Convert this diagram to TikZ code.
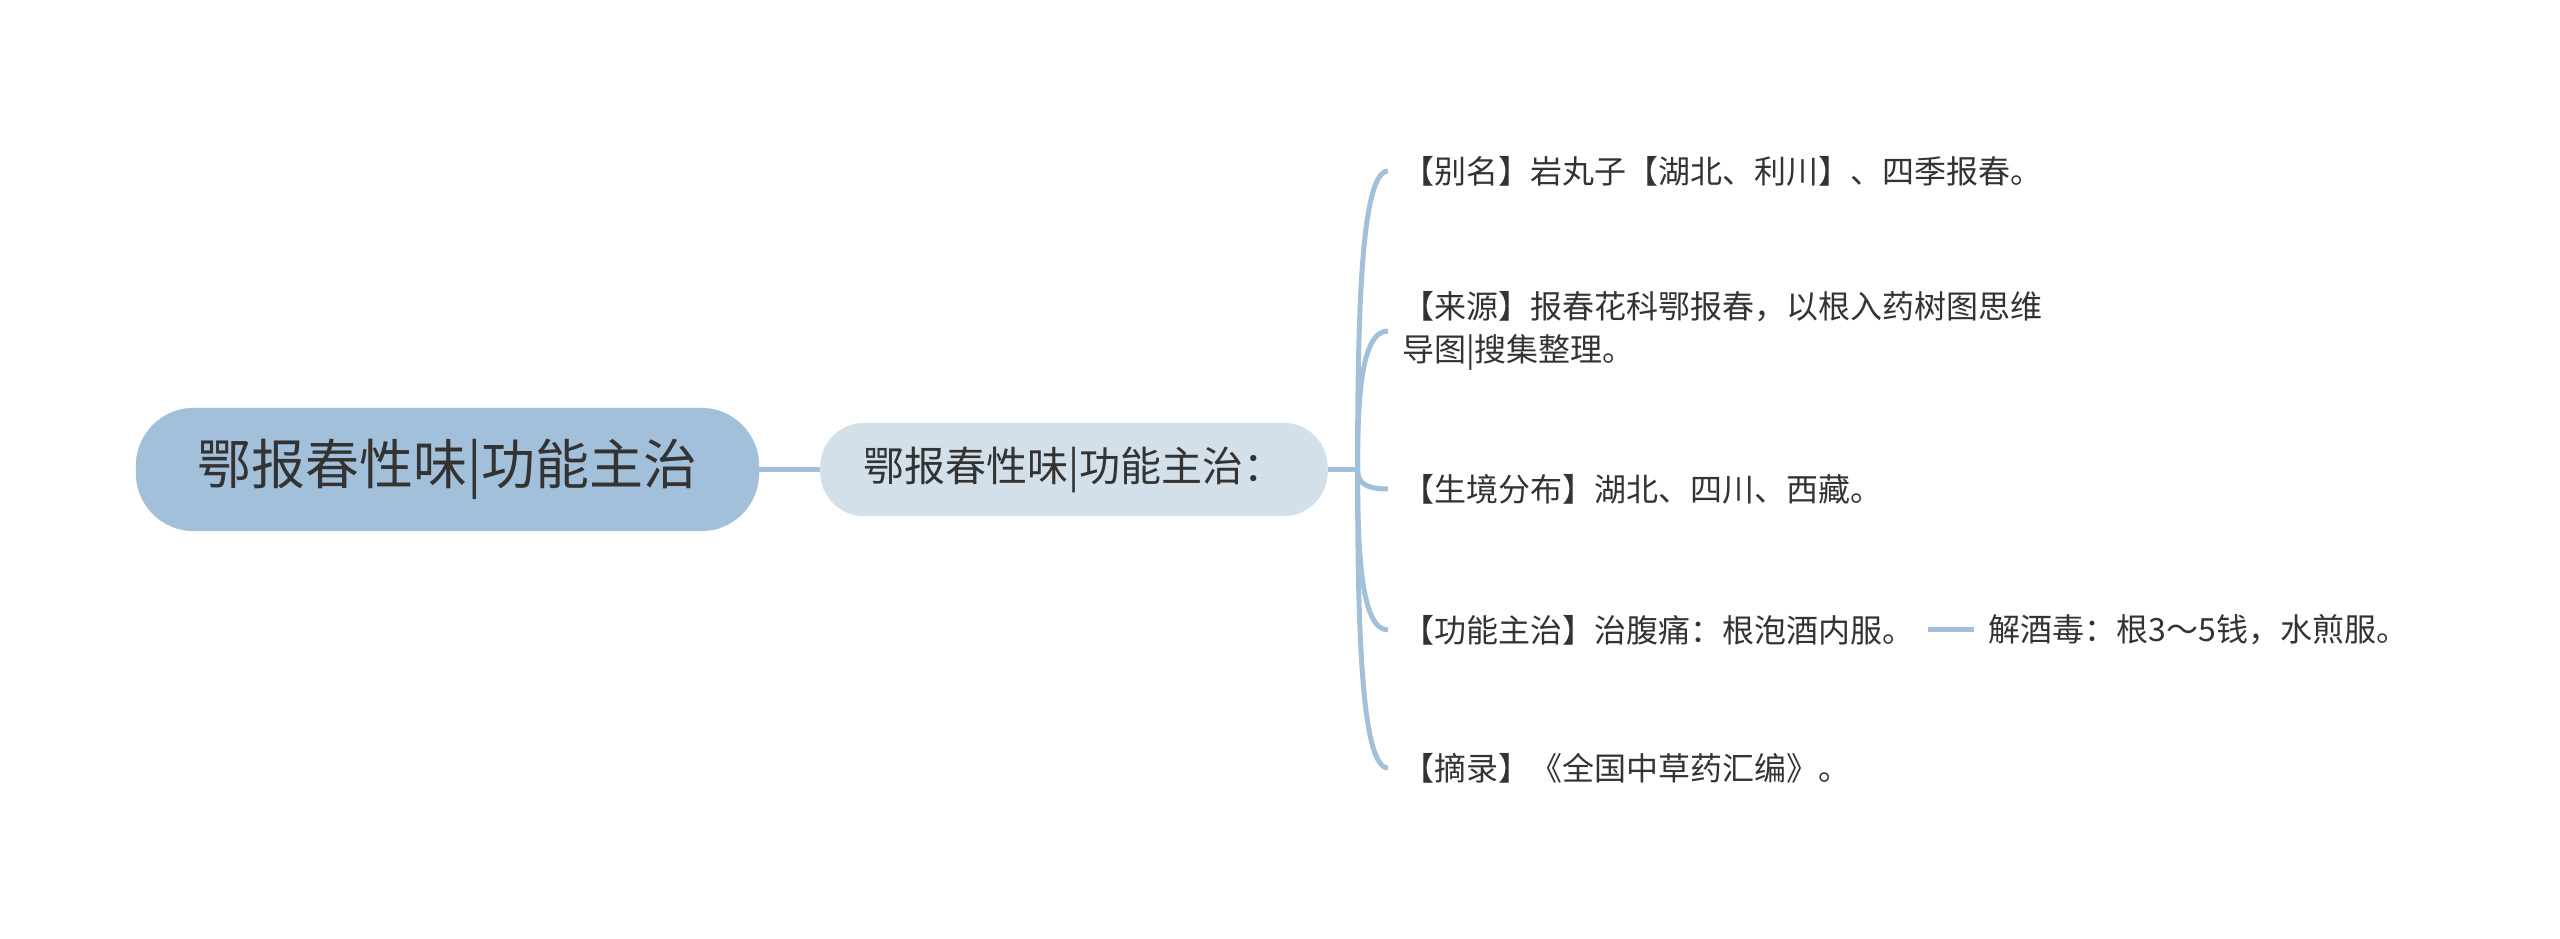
\documentclass[tikz,border=0pt]{standalone}
\usepackage{fontspec}
\setmainfont{Noto Sans CJK SC}
\usetikzlibrary{positioning,calc}
\definecolor{rootblue}{HTML}{A3C0DB}
\definecolor{subblue}{HTML}{D3DFE9}
\definecolor{lineblue}{HTML}{A3C0DB}
\definecolor{txt}{HTML}{333333}
\tikzset{
  root/.style={fill=rootblue, draw=rootblue, rounded corners=58pt, minimum width=623pt, minimum height=123pt, text=txt, font=\fontsize{54}{60}\selectfont},
  sub/.style={fill=subblue, draw=subblue, rounded corners=44pt, minimum width=507pt, minimum height=93pt, text=txt, font=\fontsize{41}{48}\selectfont},
  leaf/.style={anchor=west, inner xsep=14pt, inner ysep=2pt, align=left, text=txt, font=\fontsize{32}{43}\selectfont},
  ln/.style={draw=lineblue, line width=5pt},
}
\begin{document}
\begin{tikzpicture}[x=1pt, y=1pt]
\useasboundingbox (0,0) rectangle (2560,939);
\node[root] (root) at (447.5,469.5) {鄂报春性味|功能主治};
\node[sub, right=61pt of root] (sub) {鄂报春性味|功能主治：};
\coordinate (br) at ($(sub.east)+(30,0)$);
\node[leaf] (alias) at (1388,768) {【别名】岩丸子【湖北、利川】、四季报春。};
\node[leaf] (src) at (1388,608) {【来源】报春花科鄂报春，以根入药树图思维\\导图|搜集整理。};
\node[leaf] (hab) at (1388,450) {【生境分布】湖北、四川、西藏。};
\node[leaf] (func) at (1388,309) {【功能主治】治腹痛：根泡酒内服。};
\node[leaf, right=46pt of func] (jie) {解酒毒：根3～5钱，水煎服。};
\node[leaf] (exc) at (1388,171) {【摘录】《全国中草药汇编》。};
\draw[ln] (root) -- (sub);
\draw[ln] (sub.east) -- (br);
\foreach \c in {alias,src,hab,func,exc}
  \draw[ln] (br) .. controls ($(br)!.5!(br |- \c.west)$) and ($(br |- \c.west)+(3,0)$) .. (\c.west);
\draw[ln] (func) -- (jie);
\end{tikzpicture}
\end{document}
